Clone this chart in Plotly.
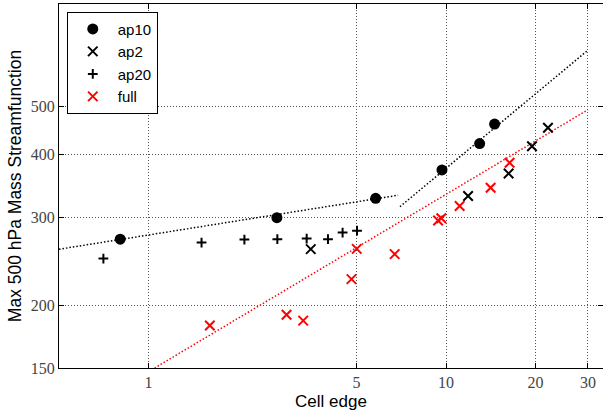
import plotly.graph_objects as go
import math

# Measured maximum 500 hPa mass streamfunction against cell edge size
ap10_x = [0.803, 2.70, 5.80, 9.69, 12.97, 14.56]
ap10_y = [271.2, 299.4, 327.4, 372.9, 421.0, 460.6]

ap2_x = [3.51, 11.86, 16.23, 19.45, 22.01]
ap2_y = [259.1, 330.9, 367.0, 416.0, 452.7]

ap20_x = [0.705, 1.507, 2.10, 2.71, 3.40, 4.01, 4.49, 5.02]
ap20_y = [248.1, 267.0, 270.8, 271.2, 272.0, 271.2, 279.6, 282.1]

full_x = [1.607, 2.91, 3.31, 4.81, 5.01, 6.72, 9.40, 9.64, 11.11, 14.12, 16.35]
full_y = [182.4, 191.6, 186.5, 225.7, 259.4, 253.2, 295.5, 298.6, 316.0, 343.7, 385.5]

# Power-law fit lines (end points, straight in log-log space)
fit_low_x = [0.5, 6.9]
fit_low_y = [259.0, 332.0]
fit_high_x = [7.0, 30.0]
fit_high_y = [315.0, 647.0]
fit_full_x = [1.0, 30.0]
fit_full_y = [147.5, 492.0]

x_ticks = [1, 5, 10, 20, 30]
y_ticks = [150, 200, 300, 400, 500]

fig = go.Figure()

fit_dash = "1.5px,2px"
for fx, fy, col in [(fit_low_x, fit_low_y, "black"),
                    (fit_high_x, fit_high_y, "black"),
                    (fit_full_x, fit_full_y, "red")]:
    fig.add_trace(go.Scatter(x=fx, y=fy, mode="lines",
                             line=dict(color=col, width=1.5, dash=fit_dash),
                             showlegend=False, hoverinfo="skip"))

fig.add_trace(go.Scatter(x=ap10_x, y=ap10_y, mode="markers", name="ap10",
                         marker=dict(symbol="circle", size=11, color="black")))
fig.add_trace(go.Scatter(x=ap2_x, y=ap2_y, mode="markers", name="ap2",
                         marker=dict(symbol="x-thin", size=9.5,
                                     line=dict(color="black", width=2))))
fig.add_trace(go.Scatter(x=ap20_x, y=ap20_y, mode="markers", name="ap20",
                         marker=dict(symbol="cross-thin", size=7,
                                     line=dict(color="black", width=2))))
fig.add_trace(go.Scatter(x=full_x, y=full_y, mode="markers", name="full",
                         marker=dict(symbol="x-thin", size=9.5,
                                     line=dict(color="red", width=2))))

tick_font = dict(family="Liberation Serif, serif", size=16, color="#444")
title_font = dict(family="Liberation Sans, Arial, sans-serif", size=17, color="black")
grid_style = dict(showgrid=True, gridcolor="#555", griddash="1px,2px", gridwidth=1)

fig.update_xaxes(
    type="log",
    range=[math.log10(0.5), math.log10(33.7)],
    tickvals=x_ticks, ticktext=[str(v) for v in x_ticks],
    tickfont=tick_font,
    title=dict(text="Cell edge", font=title_font, standoff=4),
    showline=True, linecolor="black", linewidth=1, mirror="ticks",
    ticks="inside", ticklen=5, tickcolor="black",
    zeroline=False, **grid_style,
)
fig.update_yaxes(
    type="log",
    range=[math.log10(150), math.log10(800)],
    tickvals=y_ticks, ticktext=[str(v) for v in y_ticks],
    tickfont=tick_font,
    title=dict(text="Max 500 hPa Mass Streamfunction",
               font=dict(family="Liberation Sans, Arial, sans-serif", size=17.5, color="black"),
               standoff=4),
    showline=True, linecolor="black", linewidth=1, mirror="ticks",
    ticks="inside", ticklen=5, tickcolor="black",
    zeroline=False, **grid_style,
)

fig.update_layout(
    width=603, height=411,
    margin=dict(l=58.5, r=0, t=4, b=43, autoexpand=False),
    plot_bgcolor="white", paper_bgcolor="white",
    legend=dict(
        x=0.0143, y=0.979, xanchor="left", yanchor="top",
        bordercolor="black", borderwidth=1, bgcolor="white",
        font=dict(family="Liberation Sans, Arial, sans-serif", size=15, color="black"),
        tracegroupgap=0, itemwidth=40,
    ),
)

fig.write_html("out.html")
